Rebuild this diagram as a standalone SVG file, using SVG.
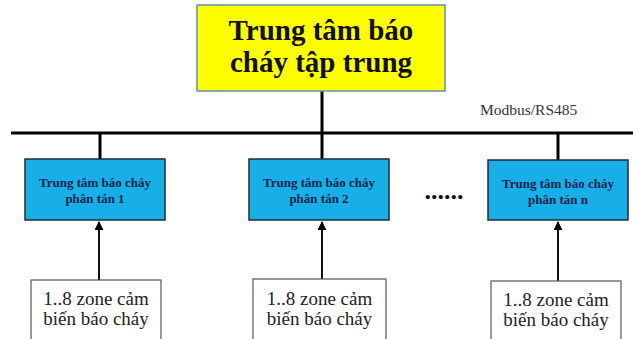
<svg xmlns="http://www.w3.org/2000/svg" width="633" height="339" viewBox="0 0 633 339">
<defs>
<style>
.main{fill:#ffff00;stroke:#6a8fb0;stroke-width:1.5}
.sub{fill:#18aee6;stroke:#1c2b40;stroke-width:1.5}
.zone{fill:#ffffff;stroke:#555555;stroke-width:1.2}
.t1{font-family:"Liberation Serif","Times New Roman",serif;font-weight:bold;font-size:29px;fill:#111111;text-anchor:middle}
.t2{font-family:"Liberation Serif","Times New Roman",serif;font-weight:bold;font-size:13px;fill:#1a2550;text-anchor:middle}
.t3{font-family:"Liberation Serif","Times New Roman",serif;font-size:19px;fill:#222222;text-anchor:middle}
.lbl{font-family:"Liberation Serif","Times New Roman",serif;font-size:15.5px;fill:#333333}
.bus{stroke:#000000;stroke-width:3;fill:none}
.arr{stroke:#111111;stroke-width:2;fill:none;marker-end:url(#ah)}
</style>
<marker id="ah" viewBox="0 0 10 10" refX="9" refY="5" markerWidth="4.5" markerHeight="4.5" orient="auto">
<path d="M0,0 L10,5 L0,10 z" fill="#000000"/>
</marker>
</defs>
<rect width="633" height="339" fill="#ffffff"/>
<g id="connectors">
<line class="bus" x1="11" y1="133" x2="633" y2="133"/>
<line class="bus" x1="322" y1="91" x2="322" y2="133"/>
<line class="bus" x1="100" y1="133" x2="100" y2="159"/>
<line class="bus" x1="322" y1="133" x2="322" y2="159"/>
<line class="bus" x1="558" y1="133" x2="558" y2="160"/>
<line class="arr" x1="99" y1="280" x2="99" y2="222"/>
<line class="arr" x1="322" y1="279" x2="322" y2="222"/>
<line class="arr" x1="558" y1="281" x2="558" y2="222"/>
<text class="lbl" x="480" y="115">Modbus/RS485</text>
</g>
<g id="central">
<rect class="main" x="197" y="5" width="248" height="86"/>
<text class="t1" x="321" y="40">Trung tâm báo</text>
<text class="t1" x="321" y="72">cháy tập trung</text>
</g>
<g id="sub1">
<rect class="sub" x="25" y="159" width="140" height="61"/>
<text class="t2" x="95" y="187">Trung tâm báo cháy</text>
<text class="t2" x="95" y="203">phân tán 1</text>
</g>
<g id="sub2">
<rect class="sub" x="249" y="159" width="140" height="61"/>
<text class="t2" x="319" y="187">Trung tâm báo cháy</text>
<text class="t2" x="319" y="203">phân tán 2</text>
</g>
<g id="dots">
<text x="444" y="199" style="font-family:'Liberation Serif',serif;font-weight:bold;font-size:26px;fill:#111;text-anchor:middle">......</text>
</g>
<g id="subn">
<rect class="sub" x="488" y="160" width="140" height="60"/>
<text class="t2" x="558" y="188">Trung tâm báo cháy</text>
<text class="t2" x="558" y="204">phân tán n</text>
</g>
<g id="zone1">
<rect class="zone" x="31" y="280" width="130" height="70"/>
<text class="t3" x="96" y="305">1..8 zone cảm</text>
<text class="t3" x="96" y="325">biến báo cháy</text>
</g>
<g id="zone2">
<rect class="zone" x="253" y="279" width="133" height="70"/>
<text class="t3" x="319.5" y="305">1..8 zone cảm</text>
<text class="t3" x="319.5" y="325">biến báo cháy</text>
</g>
<g id="zonen">
<rect class="zone" x="491" y="281" width="130" height="70"/>
<text class="t3" x="556" y="306">1..8 zone cảm</text>
<text class="t3" x="556" y="326">biến báo cháy</text>
</g>
</svg>
